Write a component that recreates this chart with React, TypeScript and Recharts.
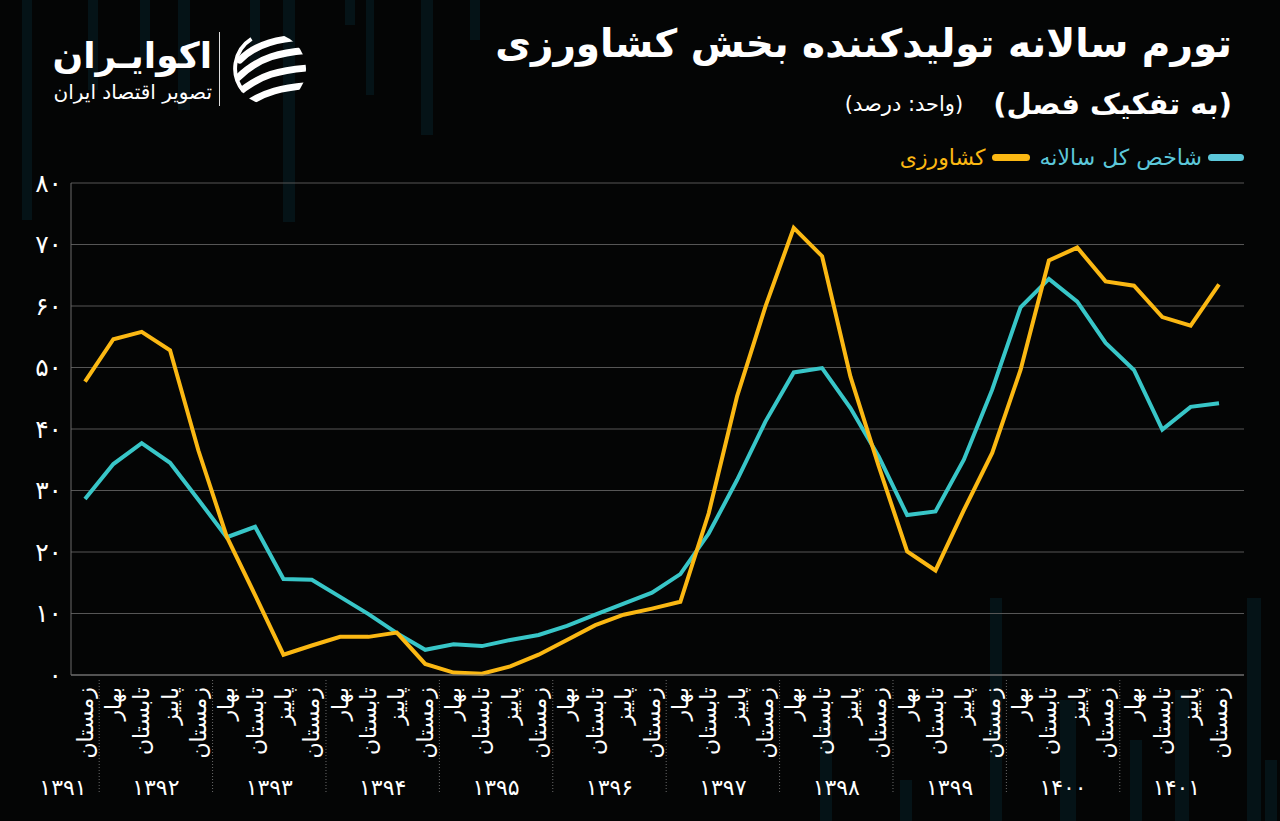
import React from 'react';
import { LineChart, Line, XAxis, YAxis, CartesianGrid } from 'recharts';

// seasons, left to right (first point is winter 1391)
const seasons = [
  'زمستان',
  'بهار', 'تابستان', 'پاییز', 'زمستان',
  'بهار', 'تابستان', 'پاییز', 'زمستان',
  'بهار', 'تابستان', 'پاییز', 'زمستان',
  'بهار', 'تابستان', 'پاییز', 'زمستان',
  'بهار', 'تابستان', 'پاییز', 'زمستان',
  'بهار', 'تابستان', 'پاییز', 'زمستان',
  'بهار', 'تابستان', 'پاییز', 'زمستان',
  'بهار', 'تابستان', 'پاییز', 'زمستان',
  'بهار', 'تابستان', 'پاییز', 'زمستان',
  'بهار', 'تابستان', 'پاییز', 'زمستان',
];

const years = [1391, 1392, 1393, 1394, 1395, 1396, 1397, 1398, 1399, 1400, 1401];

// agriculture producer inflation (%)
const agriculture = [
  47.7, 54.6, 55.8, 52.8, 36.5, 22.5, 13.0, 3.3, 4.8, 6.2, 6.2,
  6.9, 1.8, 0.4, 0.2, 1.4, 3.3, 5.7, 8.1, 9.8, 10.8, 11.9,
  26.3, 45.3, 59.9, 72.7, 68.1, 48.5, 33.9, 20.1, 17.0, 26.8,
  36.1, 49.6, 67.4, 69.5, 64.0, 63.3, 58.2, 56.8, 63.5,
];

// overall annual index (%)
const overall = [
  28.6, 34.3, 37.7, 34.5, 28.5, 22.4, 24.1, 15.6, 15.5, 12.7, 9.9,
  6.8, 4.1, 5.0, 4.7, 5.7, 6.5, 8.0, 9.8, 11.6, 13.4, 16.4,
  23.0, 31.7, 41.2, 49.2, 49.9, 43.4, 35.5, 26.0, 26.6, 35.0,
  46.4, 59.8, 64.4, 60.7, 54.0, 49.6, 39.9, 43.6, 44.2,
];

const yTicks = [0, 10, 20, 30, 40, 50, 60, 70, 80];

const TEAL = '#38C6C8';
const GOLD = '#FBB813';
const FONT = '"DejaVu Sans", sans-serif';
const STEP = 28.34; // distance between two seasons on the x axis

const toFa = (v: number | string) =>
  String(v).replace(/\d/g, (d) => '۰۱۲۳۴۵۶۷۸۹'[Number(d)]);

const data = seasons.map((s, i) => ({
  key: i,
  season: s,
  year: i === 0 ? years[0] : years[Math.floor((i - 1) / 4) + 1],
  agriculture: agriculture[i],
  overall: overall[i],
}));

function SeasonTick(props: any) {
  const { x, y, index } = props;
  const half = STEP / 2;
  const row = data[index];
  if (!row) return null;
  const isFirst = index === 0;
  const isSpring = !isFirst && (index - 1) % 4 === 0;
  return (
    <g>
      <text
        transform={`translate(${x},${y + 12}) rotate(-90)`}
        textAnchor="end"
        dominantBaseline="central"
        fill="#ffffff"
        fontSize={22}
        fontFamily={FONT}
      >
        {row.season}
      </text>
      {isSpring && (
        <line x1={x - half} x2={x - half} y1={y + 5} y2={y + 117} stroke="#6a6a6a" strokeDasharray="1 2" />
      )}
      {isFirst && (
        <text x={x - 22} y={y + 120} textAnchor="middle" fill="#fff" fontSize={22} fontFamily={FONT}>
          {toFa(row.year)}
        </text>
      )}
      {isSpring && (
        <text x={x + 3 * half} y={y + 120} textAnchor="middle" fill="#fff" fontSize={22} fontFamily={FONT}>
          {toFa(row.year)}
        </text>
      )}
    </g>
  );
}

function Logo() {
  return (
    <div style={{ position: 'absolute', left: 46, top: 30, width: 270, height: 80 }}>
      <div style={{ position: 'absolute', right: 104, top: 4, direction: 'rtl', textAlign: 'right', color: '#fff' }}>
        <div style={{ fontSize: 36, fontWeight: 'bold', lineHeight: '44px', whiteSpace: 'nowrap' }}>اکوایـران</div>
        <div style={{ fontSize: 20, lineHeight: '22px', marginTop: 3, whiteSpace: 'nowrap' }}>تصویر اقتصاد ایران</div>
      </div>
      <div style={{ position: 'absolute', left: 173, top: 2, width: 1, height: 74, background: '#ddd' }} />
      <svg style={{ position: 'absolute', left: 186, top: 1 }} width={76} height={76} viewBox="0 0 78 78">
        <defs>
          <clipPath id="lg">
            <circle cx={39} cy={39} r={37} />
          </clipPath>
        </defs>
        <g clipPath="url(#lg)" stroke="#fff" strokeLinecap="round" fill="none">
          <path d="M8 30 C 25 12, 50 8, 74 6" strokeWidth={7} />
          <path d="M6 48 C 28 26, 52 22, 76 20" strokeWidth={7} />
          <path d="M4 66 C 28 44, 52 40, 76 38" strokeWidth={7} />
          <path d="M14 76 C 32 62, 54 58, 76 56" strokeWidth={7} />
        </g>
        <path d="M20 8 A 36 36 0 0 0 12 62" stroke="#fff" strokeWidth={4} fill="none" />
      </svg>
    </div>
  );
}

const bars = [
  [22, 0, 10, 220], [88, 0, 10, 90], [140, 0, 10, 60], [178, 0, 12, 110], [250, 0, 10, 70],
  [283, 0, 12, 222], [345, 0, 10, 25], [366, 0, 8, 95], [421, 0, 12, 135], [470, 0, 10, 40],
  [990, 598, 12, 223], [1060, 700, 16, 121], [1130, 740, 12, 81], [1175, 690, 14, 131],
  [1247, 598, 14, 223], [1265, 760, 12, 61], [820, 720, 12, 101], [900, 780, 12, 41],
];

export default function App() {
  return (
    <div
      style={{
        position: 'absolute',
        left: 0,
        top: 0,
        width: 1280,
        height: 821,
        background: '#040505',
        overflow: 'hidden',
        fontFamily: FONT,
      }}
    >
      {bars.map(([x, y, w, h], i) => (
        <div
          key={i}
          style={{ position: 'absolute', left: x, top: y, width: w, height: h, background: 'rgba(10,45,58,0.35)' }}
        />
      ))}

      <Logo />

      <div
        style={{
          position: 'absolute',
          right: 48,
          top: 21,
          direction: 'rtl',
          color: '#fff',
          fontWeight: 'bold',
          fontSize: 39,
          whiteSpace: 'nowrap',
        }}
      >
        تورم سالانه تولیدکننده بخش کشاورزی
      </div>
      <div
        style={{
          position: 'absolute',
          right: 48,
          top: 87,
          direction: 'rtl',
          color: '#fff',
          whiteSpace: 'nowrap',
          display: 'flex',
          alignItems: 'center',
        }}
      >
        <span style={{ fontWeight: 'bold', fontSize: 29 }}>(به تفکیک فصل)</span>
        <span style={{ fontSize: 21, marginRight: 30 }}>(واحد: درصد)</span>
      </div>

      <div
        style={{
          position: 'absolute',
          right: 36,
          top: 145,
          direction: 'rtl',
          display: 'flex',
          alignItems: 'center',
          whiteSpace: 'nowrap',
          fontSize: 22,
        }}
      >
        <span style={{ display: 'inline-block', width: 36, height: 7, borderRadius: 4, background: '#5CC8DA' }} />
        <span style={{ color: '#5CC8DA', marginRight: 6 }}>شاخص کل سالانه</span>
        <span
          style={{ display: 'inline-block', width: 38, height: 7, borderRadius: 4, background: GOLD, marginRight: 10 }}
        />
        <span style={{ color: GOLD, marginRight: 6 }}>کشاورزی</span>
      </div>

      <div style={{ position: 'absolute', left: 0, top: 0 }}>
        <LineChart
          width={1280}
          height={821}
          data={data}
          margin={{ top: 183, right: 36, left: 11, bottom: 16 }}
        >
          <CartesianGrid vertical={false} stroke="#565656" strokeWidth={1} />
          <XAxis
            dataKey="key"
            type="category"
            interval={0}
            height={130}
            tickLine={false}
            tickSize={0}
            tickMargin={0}
            padding={{ left: 14, right: 25 }}
            axisLine={{ stroke: '#7a7a7a', strokeWidth: 1 }}
            tick={<SeasonTick />}
          />
          <YAxis
            domain={[0, 80]}
            ticks={yTicks}
            width={60}
            tickLine={false}
            tickSize={0}
            tickMargin={9}
            axisLine={{ stroke: '#6a6a6a' }}
            tickFormatter={(v: number) => toFa(v)}
            tick={{ fill: '#ffffff', fontSize: 25, fontFamily: FONT }}
          />
          <YAxis
            yAxisId="r"
            orientation="right"
            domain={[0, 80]}
            width={0}
            tick={false}
            tickLine={false}
            axisLine={{ stroke: '#6a6a6a' }}
          />
          <Line
            type="linear"
            dataKey="overall"
            stroke={TEAL}
            strokeWidth={4}
            dot={false}
            isAnimationActive={false}
          />
          <Line
            type="linear"
            dataKey="agriculture"
            stroke={GOLD}
            strokeWidth={4}
            dot={false}
            isAnimationActive={false}
          />
        </LineChart>
      </div>
    </div>
  );
}
